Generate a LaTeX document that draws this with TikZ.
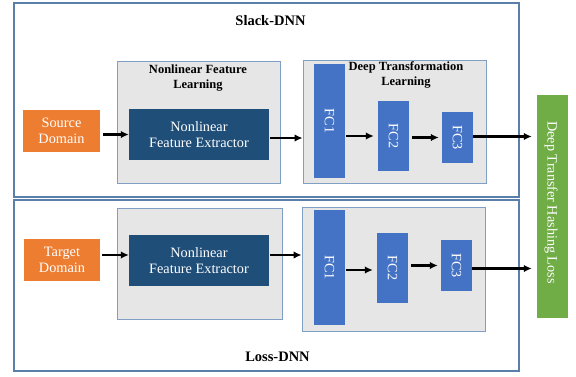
\documentclass[tikz,border=0pt]{standalone}
\usepackage{fontspec}
\setmainfont{Liberation Serif}
\usetikzlibrary{arrows.meta}
\definecolor{frameblue}{HTML}{5A7FAA}
\definecolor{panelgray}{HTML}{E6E6E6}
\definecolor{panelline}{HTML}{7F9FC4}
\definecolor{srcorange}{HTML}{ED7D31}
\definecolor{extblue}{HTML}{1F4E79}
\definecolor{fcblue}{HTML}{4472C4}
\definecolor{lossgreen}{HTML}{70AD47}
\tikzset{
  netframe/.style={draw=frameblue, line width=1.6pt, inner sep=0pt},
  panel/.style={draw=panelline, fill=panelgray, line width=0.8pt, inner sep=0pt},
  inputbox/.style={fill=srcorange, text=white, inner sep=0pt, align=center, font=\fontsize{14.3}{16.6}\selectfont},
  extractor/.style={fill=extblue, text=white, inner sep=0pt, align=center, font=\fontsize{14.3}{16.6}\selectfont},
  fcbox/.style={fill=fcblue, text=white, inner sep=0pt, minimum width=31pt, font=\fontsize{14.2}{16}\selectfont},
  panelhead/.style={align=center, font=\bfseries\fontsize{12.5}{15}\selectfont},
  nethead/.style={font=\bfseries\fontsize{14.5}{17}\selectfont},
  flow/.style={-{Latex[length=8pt,width=7.5pt]}, line width=2.2pt, black}
}
\begin{document}
\begin{tikzpicture}[x=1pt, y=-1pt]
\useasboundingbox (0,0) rectangle (576,376);

% two network frames
\node[netframe, minimum width=505pt, minimum height=194pt] (slack) at (266.5,100) {};
\node[netframe, minimum width=505pt, minimum height=171pt] (lossnet) at (266.5,285.5) {};
\node[nethead] (slacktitle) at (270.5,21) {Slack-DNN};
\node[nethead] (losstitle) at (277.5,356.5) {Loss-DNN};

% ---- Slack-DNN row ----
\node[panel, minimum width=163pt, minimum height=122pt] (nflA) at (199,122) {};
\node[panelhead] (nflAtitle) at (198,78) {Nonlinear Feature\\Learning};
\node[inputbox, minimum width=77pt, minimum height=42pt] (src) at (61.5,131) {Source\\Domain};
\node[extractor, minimum width=140pt, minimum height=51pt] (extA) at (199,134.5) {Nonlinear\\Feature Extractor};

\node[panel, minimum width=183pt, minimum height=123pt] (dtlA) at (394.5,121.5) {};
\node[panelhead] (dtlAtitle) at (406,75) {Deep Transformation\\Learning};
\node[fcbox, minimum height=114pt] (fc1A) at (329.5,121) {\rotatebox{-90}{FC1}};
\node[fcbox, minimum height=70pt] (fc2A) at (393.5,136) {\rotatebox{-90}{FC2}};
\node[fcbox, minimum height=51pt] (fc3A) at (457.5,137.5) {\rotatebox{-90}{FC3}};

% ---- Loss-DNN row ----
\node[panel, minimum width=165pt, minimum height=111pt] (nflB) at (199.5,263.5) {};
\node[inputbox, minimum width=76pt, minimum height=42pt] (tgt) at (62,260) {Target\\Domain};
\node[extractor, minimum width=140pt, minimum height=51pt] (extB) at (199,260.5) {Nonlinear\\Feature Extractor};

\node[panel, minimum width=183pt, minimum height=124pt] (dtlB) at (393.5,269) {};
\node[fcbox, minimum height=115pt] (fc1B) at (329.5,267.5) {\rotatebox{-90}{FC1}};
\node[fcbox, minimum height=70pt] (fc2B) at (392.5,268) {\rotatebox{-90}{FC2}};
\node[fcbox, minimum height=51pt] (fc3B) at (456.5,265.5) {\rotatebox{-90}{FC3}};

% shared loss
\node[fill=lossgreen, inner sep=0pt, minimum width=31pt, minimum height=223pt] (loss) at (552.5,206.5) {};
\node[text=white, inner sep=0pt, font=\fontsize{14.2}{16}\selectfont] (losslabel) at (551,202.5)
      {\rotatebox{-90}{Deep Transfer Hashing Loss}};

% connectors, Slack-DNN
\draw[flow] ([xshift=3pt,yshift=-3.5pt]src.east) -- ([yshift=-3.5pt]src.east -| extA.west);
\draw[flow] ([xshift=1pt,yshift=-3.5pt]extA.east) -- ([yshift=-3.5pt]extA.east -| dtlA.west);
\draw[flow] ([xshift=1pt]fc1A.east |- fc2A.center) -- ([xshift=-4pt]fc2A.west);
\draw[flow] ([xshift=3pt]fc2A.east |- fc3A.center) -- ([xshift=-3pt]fc3A.west);
\draw[flow] ([yshift=1pt]fc3A.east) -- ([yshift=1pt,xshift=-5pt]fc3A.east -| loss.west);

% connectors, Loss-DNN
\draw[flow] ([xshift=2pt,yshift=5pt]tgt.east) -- ([yshift=5pt]tgt.east -| extB.west);
\draw[flow] ([xshift=1pt,yshift=5.5pt]extB.east) -- ([yshift=5.5pt]extB.east -| dtlB.west);
\draw[flow] ([xshift=1pt,yshift=-2.5pt]fc1B.east) -- ([yshift=-2.5pt,xshift=-4pt]fc1B.east -| fc2B.west);
\draw[flow] ([xshift=3pt]fc2B.east |- fc3B.center) -- ([xshift=-3pt]fc3B.west);
\draw[flow] ([yshift=-3pt]fc3B.east) -- ([yshift=-3pt,xshift=-5pt]fc3B.east -| loss.west);
\end{tikzpicture}
\end{document}
